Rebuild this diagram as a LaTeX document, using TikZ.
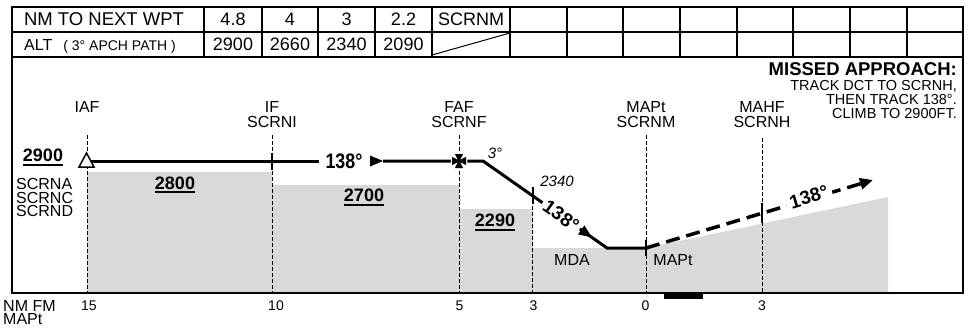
\documentclass[tikz,border=0pt]{standalone}
\usepackage{fontspec}
\usepackage{graphicx}
\setmainfont{Liberation Sans}
\usetikzlibrary{positioning,arrows.meta}
\definecolor{terrain}{gray}{0.85}
\newcommand{\ulalt}[1]{\setbox0=\hbox{#1}\rlap{\rule[-4pt]{\wd0}{2.2pt}}\box0}
\newcommand{\hdgtxt}[1]{\scalebox{0.85}[1]{#1}}
\tikzset{
  every node/.style={inner sep=0pt},
  cell/.style={anchor=base, font=\fontsize{18}{18}\selectfont},
  fixlbl/.style={anchor=north, align=center, font=\fontsize{16}{15}\selectfont},
  fixline/.style={line width=0.9pt, dash pattern=on 4pt off 2pt},
  track/.style={line width=3pt},
  missed/.style={line width=3.5pt, dash pattern=on 14pt off 7pt},
  tick/.style={line width=2pt},
  minalt/.style={anchor=base, font=\fontsize{18}{18}\selectfont\bfseries},
  hdg/.style={font=\fontsize{21}{21}\selectfont\bfseries},
  slopedhdg/.style={font=\fontsize{19}{19}\selectfont\bfseries},
  nmlbl/.style={anchor=base, font=\fontsize{14}{14}\selectfont},
  small/.style={anchor=base, font=\fontsize{15}{15}\selectfont\itshape},
  plain/.style={anchor=base, font=\fontsize{16}{16}\selectfont},
}
\begin{document}
\begin{tikzpicture}[x=1pt,y=-1pt]
\useasboundingbox (0,0) rectangle (968,329);
% terrain
\fill[terrain] (87,293) -- (87,172) -- (272,172) -- (272,185) -- (459,185) -- (459,209)
  -- (533,209) -- (533,248) -- (646,248) -- (888,197) -- (888,293) -- cycle;
% fixes
\coordinate (iaf) at (87,161);
\coordinate (if) at (272,161);
\coordinate (faf) at (459,161);
\coordinate (sd) at (483,161);
\coordinate (mda) at (607,248);
\coordinate (mapt) at (646,248);
\coordinate (maend) at (873,180);
\foreach \x/\t in {87/135, 272/135, 459/135, 532.5/200, 646/135, 762/138}
  \draw[fixline] (\x,\t) -- (\x,293);
% frame and table
\draw[line width=1.4pt] (12,7) rectangle (963,293);
\draw[line width=1.2pt] (12,32) -- (963,32) (12,57) -- (963,57);
\foreach \x in {204,262,318,375,432,510,567,623,680,737,793,850,907}
  \draw[line width=1.2pt] (\x,7) -- (\x,57);
\draw[line width=1pt] (432,55) -- (510,33);
\node[cell, font=\fontsize{18.5}{18.5}\selectfont] (nmhdr) at (104,26) {NM TO NEXT WPT};
\node[cell, anchor=base west, font=\fontsize{16}{16}\selectfont] (althdr) at (24,50.5)
  {ALT\hspace{11pt}{\fontsize{14}{14}\selectfont( 3° APCH PATH )}};
\foreach \x/\d/\a [count=\i] in {233/4.8/2900, 290/4/2660, 346.5/3/2340, 403.5/2.2/2090} {
  \node[cell] (nm\i) at (\x,26) {\d};
  \node[cell] (alt\i) at (\x,50.5) {\a};
}
\node[cell] (nm5) at (471,26) {SCRNM};
% labels of fixes
\node[fixlbl] (lbliaf) at (87,101.5) {IAF};
\node[fixlbl] (lblif) at (272,101.5) {IF\\SCRNI};
\node[fixlbl] (lblfaf) at (459,101.5) {FAF\\SCRNF};
\node[fixlbl] (lblmapt) at (646,101.5) {MAPt\\SCRNM};
\node[fixlbl] (lblmahf) at (762,101.5) {MAHF\\SCRNH};
% missed approach
\node[anchor=north east, font=\fontsize{18.5}{18.5}\selectfont\bfseries] (mahdr) at (957,62) {MISSED APPROACH:};
\node[below left=5pt and 0pt of mahdr.south east, align=right, font=\fontsize{14.5}{14}\selectfont] (matxt)
  {TRACK DCT TO SCRNH,\\THEN TRACK 138°.\\CLIMB TO 2900FT.};
% altitudes
\node[minalt] (alt2900) at (43,161.7) {\ulalt{2900}};
\node[minalt] (alt2800) at (175,189.3) {\ulalt{2800}};
\node[minalt] (alt2700) at (364,201.7) {\ulalt{2700}};
\node[minalt] (alt2290) at (495,226.7) {\ulalt{2290}};
\node[anchor=north west, align=left, font=\fontsize{16}{13.4}\selectfont] (iafs) at (16,178.5) {SCRNA\\SCRNC\\SCRND};
% tracks
\draw[track] (iaf) -- (319,161);
\node[hdg] (hdgin) at (344,161) {\hdgtxt{138°}};
\fill (370,155.5) -- (383,161) -- (370,166.5) -- cycle;
\draw[track] (383,161) -- (faf) -- (sd)
  -- node[pos=0.63, sloped, fill=white, inner xsep=3pt, inner ysep=1pt, slopedhdg] (hdgfa) {138°} (mda) -- (mapt);
\fill (591.8,237.3) -- (578.0,234.4) -- (584.4,225.4) -- cycle;
\draw[missed, -{Triangle[length=13pt, width=11pt]}] (mapt)
  -- node[pos=0.72, sloped, fill=white, inner xsep=4pt, inner ysep=2pt, yshift=2pt, slopedhdg] (hdgma) {138°} (maend);
\draw[tick] (272,152.5) -- (272,169.5);
\draw[tick] (532.5,187) -- (532.5,204);
\draw[tick] (646,240) -- (646,256);
\draw[tick] (762,203) -- (762,223);
\filldraw[fill=white, line width=1.5pt] (79,167) -- (86.5,153) -- (94,167) -- cycle;
\filldraw[fill=black, draw=white, line width=2.5pt, shift={(faf)}] (-4,-7) -- (4,-7) -- (1.2,-1.2) -- (7,-4)
  -- (7,4) -- (1.2,1.2) -- (4,7) -- (-4,7) -- (-1.2,1.2) -- (-7,4) -- (-7,-4) -- (-1.2,-1.2) -- cycle;
\fill[shift={(faf)}] (-4,-7) -- (4,-7) -- (1.2,-1.2) -- (7,-4)
  -- (7,4) -- (1.2,1.2) -- (4,7) -- (-4,7) -- (-1.2,1.2) -- (-7,4) -- (-7,-4) -- (-1.2,-1.2) -- cycle;
\node[small] (slope) at (495,158) {3°};
\node[small] (alt3nm) at (557,186) {2340};
\node[plain] (mdalbl) at (572,265) {MDA};
\node[plain] (maptlbl) at (673,265) {MAPt};
% distance scale
\foreach \x/\n [count=\i] in {89/15, 276/10, 459.5/5, 533.5/3, 645.5/0, 762/3}
  \node[nmlbl] (dist\i) at (\x,310.5) {\n};
\node[anchor=north west, align=left, font=\fontsize{16}{13.5}\selectfont] (nmfm) at (3,300) {NM FM\\MAPt};
\fill (664,293) rectangle (703,298.5);
\end{tikzpicture}
\end{document}
